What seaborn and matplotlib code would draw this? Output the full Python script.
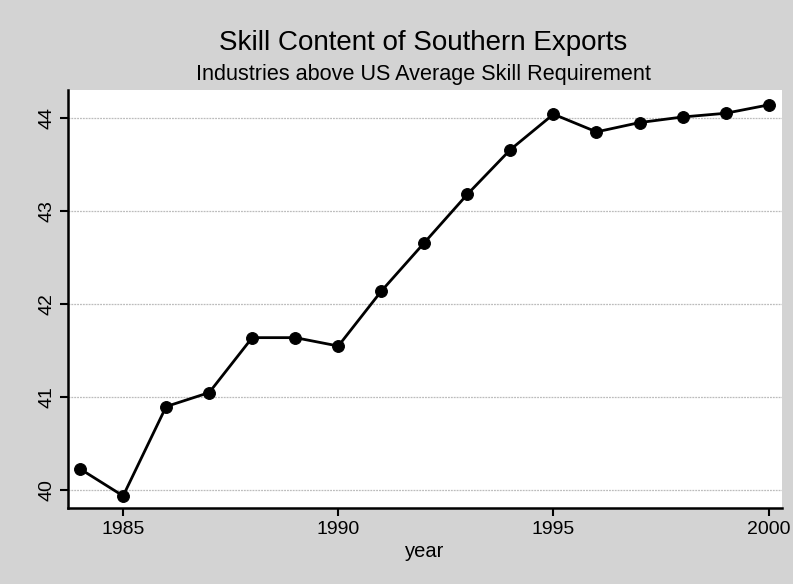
import matplotlib
matplotlib.use("Agg")
import matplotlib.pyplot as plt
import seaborn as sns
import pandas as pd

# Share of southern exports in industries above the US average skill requirement
years = [1984, 1985, 1986, 1987, 1988, 1989, 1990, 1991, 1992,
         1993, 1994, 1995, 1996, 1997, 1998, 1999, 2000]
skill = [40.23, 39.94, 40.90, 41.05, 41.64, 41.64, 41.55, 42.14, 42.66,
         43.18, 43.66, 44.04, 43.85, 43.95, 44.01, 44.05, 44.14]
x_ticks = [1985, 1990, 1995, 2000]
y_ticks = [40, 41, 42, 43, 44]

df = pd.DataFrame({"year": years, "skill": skill})

sns.set_theme(style="white")
plt.rcParams["font.family"] = ["Liberation Sans", "DejaVu Sans"]
plt.rcParams["text.color"] = "black"
plt.rcParams["axes.labelcolor"] = "black"

bg = "#d3d3d3"
fig = plt.figure(figsize=(7.93, 5.84), dpi=100, facecolor=bg)
ax = fig.add_axes([0.0858, 0.1301, 0.9003, 0.7158])
ax.set_facecolor("white")

for yv in y_ticks:
    ax.axhline(yv, color="#bcbcbc", linewidth=0.9, linestyle=(0, (1.5, 0.8)), zorder=1)

sns.lineplot(data=df, x="year", y="skill", ax=ax, color="black",
             linewidth=2.0, marker="o", markersize=8.5,
             markeredgecolor="black", markerfacecolor="black", zorder=3)

ax.set_xlim(1983.72, 2000.31)
ax.set_ylim(39.81, 44.30)
ax.set_xticks(x_ticks)
ax.set_yticks(y_ticks)
ax.set_xticklabels([str(v) for v in x_ticks], fontsize=14)
ax.set_yticklabels([str(v) for v in y_ticks], fontsize=14, rotation=90, va="center")
ax.tick_params(axis="both", direction="out", length=6, width=1.5, colors="black",
               labelcolor="black", bottom=True, left=True, pad=3)

for side in ["top", "right"]:
    ax.spines[side].set_visible(False)
for side in ["left", "bottom"]:
    ax.spines[side].set_color("black")
    ax.spines[side].set_linewidth(1.8)

ax.set_xlabel("year", fontsize=14.5, labelpad=3, color="black")
ax.set_ylabel("")

fig.text(0.5335, 0.9144, "Skill Content of Southern Exports", ha="center",
         va="baseline", fontsize=20, color="black")
fig.text(0.5345, 0.863, "Industries above US Average Skill Requirement",
         ha="center", va="baseline", fontsize=15.6, color="black")

fig.savefig("out.png", dpi=100, facecolor=bg)
